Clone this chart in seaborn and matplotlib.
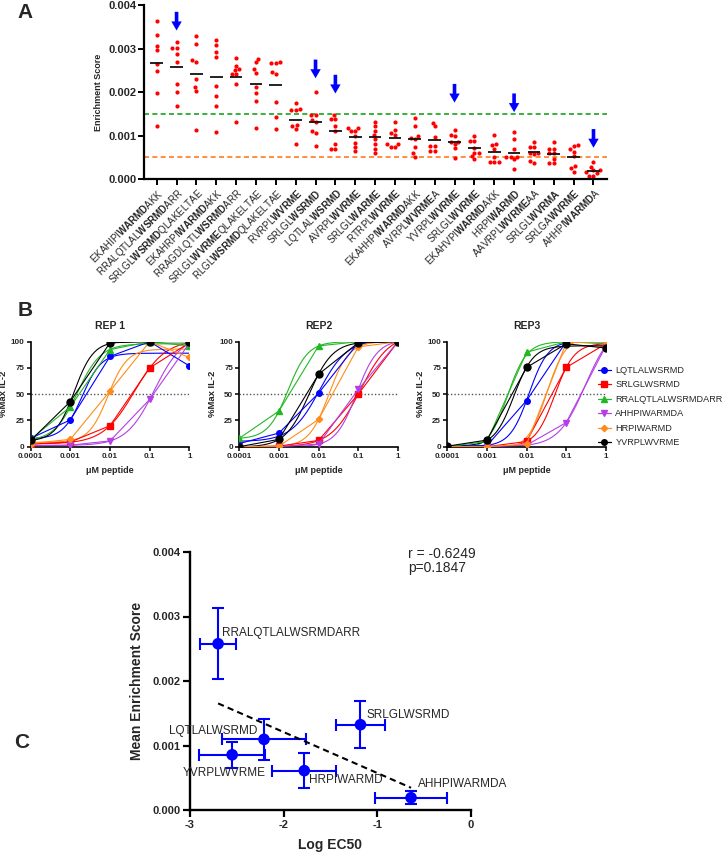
import numpy as np
import pandas as pd
import matplotlib
matplotlib.use('Agg')
import matplotlib.pyplot as plt
from matplotlib.lines import Line2D
from matplotlib.ticker import FormatStrFormatter, FixedLocator, NullLocator
import seaborn as sns

sns.set_style('ticks')
plt.rcParams['font.family'] = ['Liberation Sans', 'DejaVu Sans']
plt.rcParams['mathtext.fontset'] = 'custom'
plt.rcParams['mathtext.rm'] = 'Liberation Sans'
plt.rcParams['mathtext.it'] = 'Liberation Sans:italic'
plt.rcParams['mathtext.bf'] = 'Liberation Sans:bold'
plt.rcParams['axes.unicode_minus'] = False

# =============================================
# PANEL A DATA - enrichment score (x 1e-3)
# =============================================
peptides = ['EKAHIPIWARMDAKK', 'RRALQTLALWSRMDARR', 'SRLGLWSRMDQLAKELTAE', 'EKAHRPIWARMDAKK',
            'RRAGDLQTLWSRMDARR', 'SRLGLWVRMEQLAKELTAE', 'RLGLWSRMDQLAKELTAE', 'RVRPLWVRME',
            'SRLGLWSRMD', 'LQTLALWSRMD', 'AVRPLWVRME', 'SRLGLWARME', 'RTRPLWVRME',
            'EKAHHPIWARMDAKK', 'AVRPLWVRMEA', 'YVRPLWVRME', 'SRLGLWVRME', 'EKAHVPIWARMDAKK',
            'HRPIWARMD', 'AAVRPLWVRMEAA', 'SRLGLWVRMA', 'SRLGAWVRME', 'AHHPIWARMDA']
motifs = ['WARMD', 'WSRMD', 'WSRMD', 'WARMD', 'WSRMD', 'WVRME', 'WSRMD', 'WVRME',
          'WSRMD', 'WSRMD', 'WVRME', 'WARME', 'WVRME', 'WARMD', 'WVRME', 'WVRME',
          'WVRME', 'WARMD', 'WARMD', 'WVRME', 'WVRMA', 'WVRME', 'WARMD']
scores_e3 = [
    [3.63, 3.32, 3.07, 2.96, 2.64, 2.48, 1.97, 1.21],
    [3.16, 3.01, 3.01, 2.87, 2.70, 2.19, 2.01, 1.67],
    [3.29, 3.11, 2.73, 2.69, 2.31, 2.12, 2.03, 1.13],
    [3.19, 3.09, 2.93, 2.82, 2.15, 1.91, 1.67, 1.08],
    [2.79, 2.61, 2.53, 2.51, 2.42, 2.42, 2.18, 1.32],
    [2.77, 2.69, 2.53, 2.45, 2.13, 1.97, 1.79, 1.18],
    [2.70, 2.66, 2.66, 2.47, 2.42, 1.77, 1.43, 1.15],
    [1.74, 1.62, 1.58, 1.58, 1.25, 1.22, 1.16, 0.80],
    [2.00, 1.48, 1.48, 1.36, 1.31, 1.11, 1.07, 0.77],
    [1.47, 1.38, 1.38, 1.21, 1.11, 0.81, 0.70, 0.70],
    [1.18, 1.18, 1.11, 1.11, 0.99, 0.84, 0.74, 0.64],
    [1.32, 1.22, 1.11, 1.01, 0.92, 0.81, 0.70, 0.59],
    [1.31, 1.12, 1.07, 1.02, 0.80, 0.80, 0.74, 0.74],
    [1.40, 1.21, 0.98, 0.95, 0.91, 0.74, 0.60, 0.51],
    [1.30, 1.21, 0.96, 0.76, 0.76, 0.65, 0.65],
    [1.13, 1.02, 0.98, 0.86, 0.86, 0.81, 0.71, 0.48],
    [0.99, 0.88, 0.88, 0.71, 0.61, 0.61, 0.53, 0.45],
    [1.02, 0.80, 0.78, 0.70, 0.50, 0.40, 0.38, 0.38],
    [1.08, 0.91, 0.69, 0.51, 0.51, 0.51, 0.45, 0.22],
    [0.86, 0.74, 0.74, 0.61, 0.61, 0.57, 0.41, 0.36],
    [0.86, 0.69, 0.69, 0.59, 0.59, 0.47, 0.36, 0.36],
    [0.78, 0.77, 0.69, 0.63, 0.53, 0.31, 0.25, 0.17],
    [0.38, 0.28, 0.21, 0.21, 0.15, 0.13, 0.08, 0.08],
]
arrow_peptides = ['RRALQTLALWSRMDARR', 'SRLGLWSRMD', 'LQTLALWSRMD',
                  'YVRPLWVRME', 'HRPIWARMD', 'AHHPIWARMDA']
arrow_tips_e3 = [3.42, 2.32, 1.97, 1.76, 1.54, 0.72]
green_cut = 0.0015
orange_cut = 0.0005

# =============================================
# PANEL B DATA - %Max IL-2 per replicate
# =============================================
conc = [0.0001, 0.001, 0.01, 0.1, 1]
conc_labels = ['0.0001', '0.001', '0.01', '0.1', '1']
dose_peptides = ['LQTLALWSRMD', 'SRLGLWSRMD', 'RRALQTLALWSRMDARR',
                 'AHHPIWARMDA', 'HRPIWARMD', 'YVRPLWVRME']
dose_colors = ['#0000FF', '#FF0000', '#22B822', '#B43FE6', '#FF8C1A', '#000000']
dose_markers = ['o', 's', '^', 'v', 'D', 'o']
rep1 = [[8, 25.5, 86, 100, 77],
        [2.5, 4.5, 20, 75, 99],
        [7, 38, 92.5, 100, 96],
        [1, 1.5, 5.5, 45, 98.5],
        [3, 7, 53, 100, 85],
        [6, 43, 99, 100, 100]]
rep2 = [[3, 13, 51, 99, 100],
        [0, 0.5, 6, 50, 100],
        [8, 34, 96, 100, 100],
        [0, 0, 2.5, 54.5, 100],
        [0, 0.5, 26, 95, 100],
        [0, 7, 69, 99, 100]]
rep3 = [[0.6, 1, 44, 100, 100],
        [0, 0, 5, 75.5, 98],
        [0, 5, 90, 100, 98],
        [0, 0, 1.5, 23, 96],
        [0, 0, 2.5, 99, 100],
        [0.5, 6.3, 75.5, 98, 94]]
rep_titles = ['REP 1', 'REP2', 'REP3']

# =============================================
# PANEL C DATA - log EC50 (mean, SD over reps)
# =============================================
corr_peptides = ['RRALQTLALWSRMDARR', 'SRLGLWSRMD', 'LQTLALWSRMD',
                 'YVRPLWVRME', 'HRPIWARMD', 'AHHPIWARMDA']
log_ec50_mean = [-2.70, -1.18, -2.21, -2.55, -1.78, -0.64]
log_ec50_sd = [0.19, 0.26, 0.45, 0.35, 0.34, 0.38]
corr_text = 'r = -0.6249\np=0.1847'


def hill_fit(x, y):
    # least squares 4PL fit by grid over logEC50/hill, bottom/top solved exactly
    lx = np.log10(np.asarray(x, float))
    y = np.asarray(y, float)
    c = np.linspace(-4.5, 0.5, 501)[:, None, None]
    h = np.linspace(0.8, 1.8, 41)[None, :, None]
    s = 1.0 / (1.0 + 10.0 ** ((c - lx) * h))
    a = 1.0 - s
    m11 = (a * a).sum(-1); m12 = (a * s).sum(-1); m22 = (s * s).sum(-1)
    r1 = (a * y).sum(-1); r2 = (s * y).sum(-1)
    det = m11 * m22 - m12 ** 2
    det = np.where(det > 1e-6, det, np.nan)
    bot = (m22 * r1 - m12 * r2) / det
    top = (m11 * r2 - m12 * r1) / det
    sse = ((bot[..., None] * a + top[..., None] * s - y) ** 2).sum(-1)
    i, j = np.unravel_index(np.nanargmin(sse), sse.shape)
    return c[i, 0, 0], h[0, j, 0], bot[i, j], top[i, j]


W, H = 722, 857
fig = plt.figure(figsize=(W / 100, H / 100), dpi=100)


def box(left, top, right, bottom):
    return [left / W, 1 - bottom / H, (right - left) / W, (bottom - top) / H]


# =============================================
# PANEL A
# =============================================
rows = []
for pep, vals in zip(peptides, scores_e3):
    for v in vals:
        rows.append((pep, v / 1000))
dfA = pd.DataFrame(rows, columns=['peptide', 'score'])
stats = dfA.groupby('peptide', sort=False)['score'].agg(['mean', 'std'])

axA = fig.add_axes(box(144, 5.3, 607, 179))
sns.swarmplot(data=dfA, x='peptide', y='score', order=peptides, color='#FF0000',
              size=3, ax=axA, zorder=2)
xs = np.arange(len(peptides))
axA.hlines(stats.loc[peptides, 'mean'], xs - 0.32, xs + 0.32, color='#111111', lw=1.3, zorder=3)
axA.axhline(green_cut, color='#1AA31A', ls=(0, (3, 2)), lw=1.2, zorder=1)
axA.axhline(orange_cut, color='#FF7A1F', ls=(0, (3, 2)), lw=1.2, zorder=1)
for pep, tip in zip(arrow_peptides, arrow_tips_e3):
    i = peptides.index(pep)
    axA.annotate('', xy=(i, tip / 1000), xytext=(i, tip / 1000 + 0.00043),
                 arrowprops=dict(facecolor='#0000FF', edgecolor='none', width=2.6,
                                 headwidth=7.5, headlength=6.5, shrink=0))
axA.set_xlim(-0.64, 22.68)
axA.set_ylim(0, 0.004)
axA.yaxis.set_major_locator(FixedLocator([0, 0.001, 0.002, 0.003, 0.004]))
axA.yaxis.set_major_formatter(FormatStrFormatter('%.3f'))
tick_text = [p.replace(m, r'$\mathbf{' + m + '}$', 1) for p, m in zip(peptides, motifs)]
axA.set_xticks(xs)
axA.set_xticklabels(tick_text, rotation=45, ha='right', rotation_mode='anchor', fontsize=7)
axA.set_xlabel('')
axA.set_ylabel('Enrichment Score', fontsize=6.5, fontweight='bold', labelpad=4)
for lab in axA.get_yticklabels():
    lab.set_fontweight('bold')
    lab.set_fontsize(8)
axA.tick_params(axis='both', length=4, width=1.4, color='black', pad=1.5)
sns.despine(ax=axA)
for sp in ['left', 'bottom']:
    axA.spines[sp].set_linewidth(1.6)
    axA.spines[sp].set_color('black')

# =============================================
# PANEL B
# =============================================
rep_lefts = [30.7, 239.3, 447.3]
for left, title, rep in zip(rep_lefts, rep_titles, [rep1, rep2, rep3]):
    ax = fig.add_axes(box(left, 341.7, left + 158.6, 446.7))
    ax.set_xscale('log')
    ax.axhline(50, color='#555555', ls=(0, (1, 1.5)), lw=1.0, zorder=1)
    xx = np.logspace(-4, 0, 200)
    for vals, col, mk, pep in zip(rep, dose_colors, dose_markers, dose_peptides):
        c, h, bot, top = hill_fit(conc, vals)
        yy = bot + (top - bot) / (1 + 10 ** ((c - np.log10(xx)) * h))
        ax.plot(xx, yy, color=col, lw=0.8, zorder=2)
        ms = 5 if col == '#000000' else 4
        if mk == 'D':
            ms = 3.2
        ax.plot(conc, vals, color=col, lw=0.8, marker=mk, ms=ms, mec=col, mfc=col, zorder=3)
    ax.set_xlim(0.0001, 1)
    ax.set_ylim(0, 100)
    ax.xaxis.set_major_locator(FixedLocator(conc))
    ax.xaxis.set_minor_locator(NullLocator())
    ax.set_xticklabels(conc_labels)
    ax.set_yticks([0, 25, 50, 75, 100])
    for lab in ax.get_xticklabels() + ax.get_yticklabels():
        lab.set_fontweight('bold')
        lab.set_fontsize(5.8)
    ax.tick_params(axis='both', length=3, width=1.1, color='black', pad=1.5)
    ax.set_title(title, fontsize=7.5, fontweight='bold', pad=9)
    ax.set_xlabel('\u03bcM peptide', fontsize=6.5, fontweight='bold', labelpad=4)
    ax.set_ylabel('%Max IL-2', fontsize=6.8, fontweight='bold', labelpad=2)
    sns.despine(ax=ax)
    for sp in ['left', 'bottom']:
        ax.spines[sp].set_linewidth(1.2)
        ax.spines[sp].set_color('black')

handles = [Line2D([0], [0], color=col, marker=mk, ms=(3.2 if mk == 'D' else 4),
                  mfc=col, mec=col, lw=0.9)
           for col, mk in zip(dose_colors, dose_markers)]
fig.legend(handles, dose_peptides, loc='center left', bbox_to_anchor=(598 / W, 1 - 406.5 / H),
           frameon=False, fontsize=6.6, handlelength=1.4, handletextpad=0.5,
           labelspacing=0.6, borderaxespad=0, borderpad=0)

# =============================================
# PANEL C
# =============================================
dfC = pd.DataFrame({'peptide': corr_peptides, 'log_ec50': log_ec50_mean, 'sd_x': log_ec50_sd})
dfC['score'] = stats.loc[corr_peptides, 'mean'].values
dfC['sd_y'] = stats.loc[corr_peptides, 'std'].values

axC = fig.add_axes(box(190, 552, 471, 810))
axC.errorbar(dfC['log_ec50'], dfC['score'], xerr=dfC['sd_x'], yerr=dfC['sd_y'], fmt='none',
             ecolor='#0000FF', elinewidth=1.5, capsize=4, capthick=1.5, zorder=2)
sns.scatterplot(data=dfC, x='log_ec50', y='score', color='#0000FF', s=70,
                edgecolor='none', ax=axC, zorder=3)
sns.regplot(data=dfC, x='log_ec50', y='score', scatter=False, ci=None, ax=axC,
            line_kws=dict(color='black', ls=(0, (3, 2)), lw=1.5))
label_offsets = [(3, 8), (4, 7), (-5, 6), (-6, -13), (3.5, -7), (5, 10)]
label_ha = ['left', 'left', 'right', 'center', 'left', 'left']
for (_, r), off, ha in zip(dfC.iterrows(), label_offsets, label_ha):
    axC.annotate(r['peptide'], xy=(r['log_ec50'], r['score']), xytext=off,
                 textcoords='offset points', ha=ha, va='center', fontsize=8.5)
axC.text(-0.673, 0.00408, corr_text, fontsize=10, va='top', ha='left', linespacing=1.05)
axC.set_xlim(-3, 0)
axC.set_ylim(0, 0.004)
axC.set_xticks([-3, -2, -1, 0])
axC.yaxis.set_major_locator(FixedLocator([0, 0.001, 0.002, 0.003, 0.004]))
axC.yaxis.set_major_formatter(FormatStrFormatter('%.3f'))
for lab in axC.get_xticklabels() + axC.get_yticklabels():
    lab.set_fontweight('bold')
    lab.set_fontsize(8)
axC.tick_params(axis='both', length=5, width=1.6, color='black', pad=2)
axC.set_xlabel('Log EC50', fontsize=10, fontweight='bold', labelpad=6)
axC.set_ylabel('Mean Enrichment Score', fontsize=10, fontweight='bold', labelpad=6)
sns.despine(ax=axC)
for sp in ['left', 'bottom']:
    axC.spines[sp].set_linewidth(1.7)
    axC.spines[sp].set_color('black')

# panel letters
for letter, (x, y) in zip('ABC', [(25, 12), (25, 311), (22, 742)]):
    fig.text(x / W, 1 - y / H, letter, fontsize=15, fontweight='bold', ha='center', va='center')

fig.savefig('out.png', dpi=100)
